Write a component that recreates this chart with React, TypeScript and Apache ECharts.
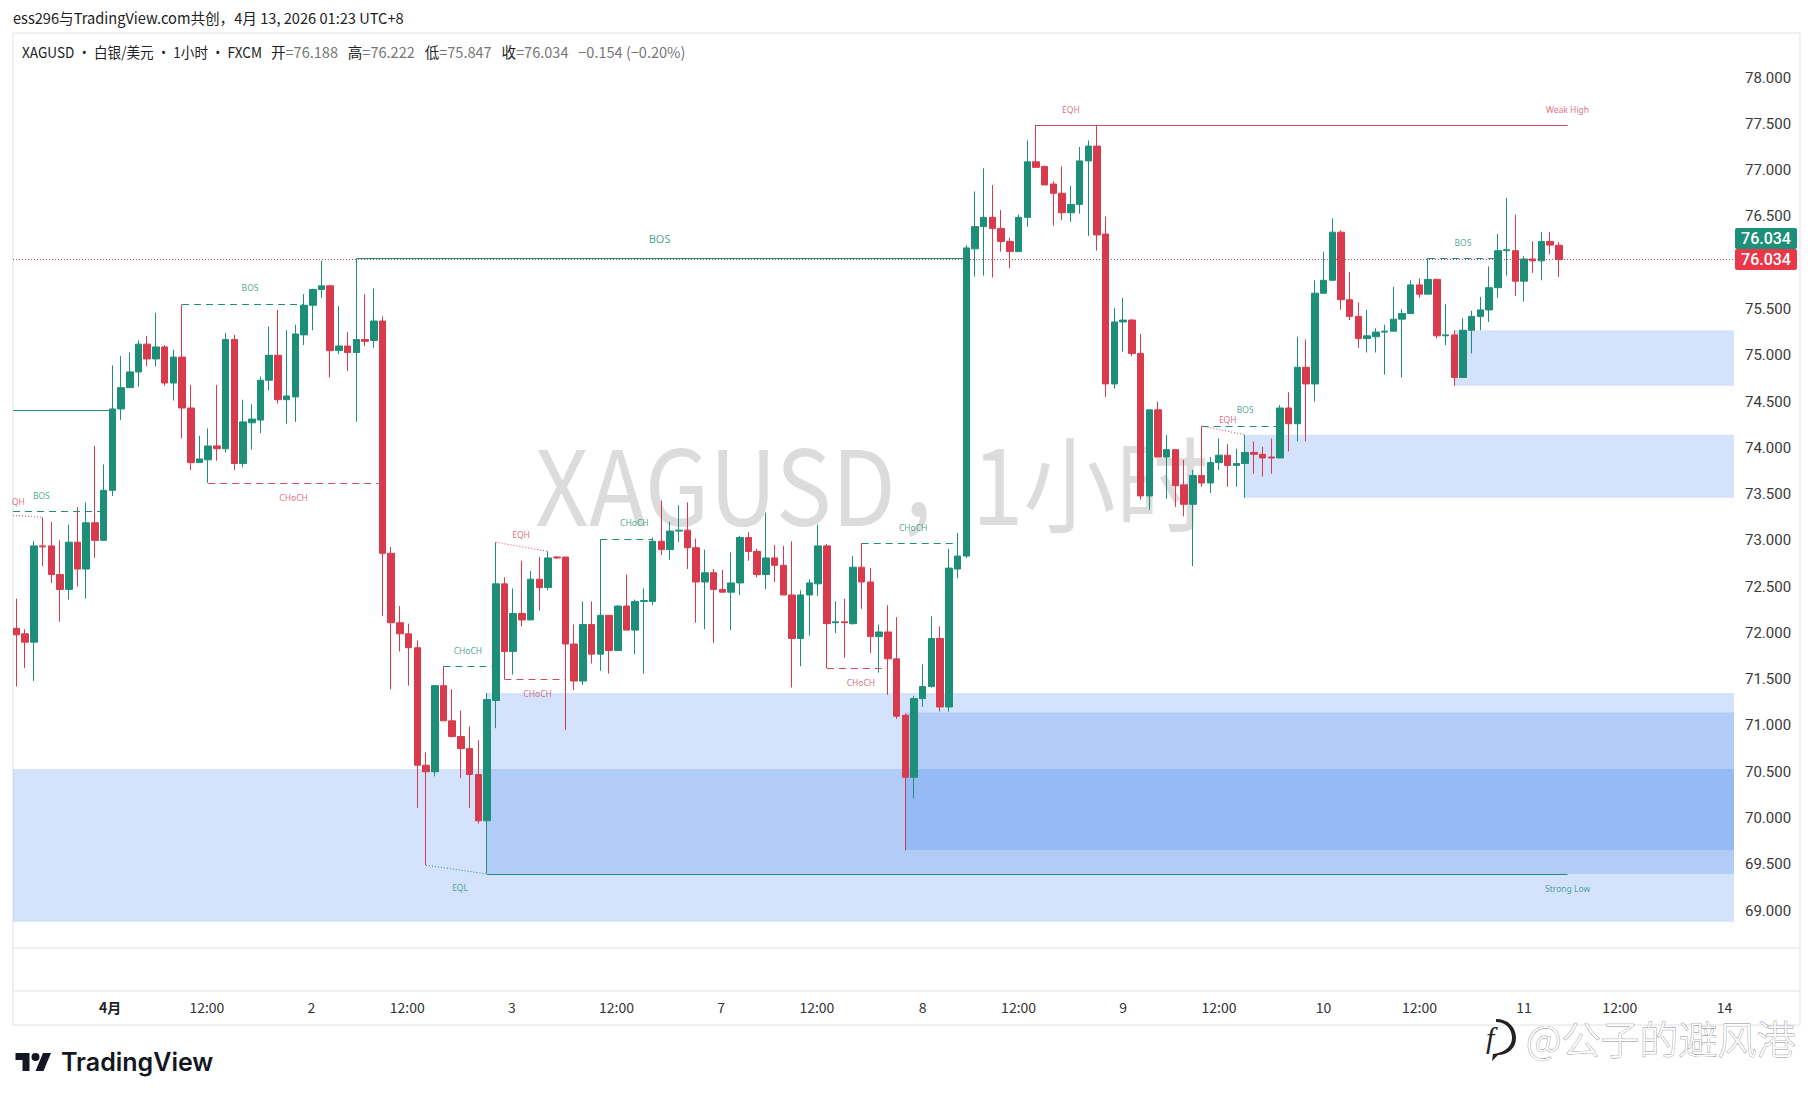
import * as echarts from "echarts";
import { useEffect, useRef } from "react";

// 蜡烛数据
const opens = [
  72.05, 71.99, 71.9, 72.94, 72.94, 72.63, 72.47, 72.98, 72.69, 73.19, 73.0, 73.54, 74.42, 74.65, 74.82, 75.12, 74.96, 75.09, 74.7, 74.98,
  74.43, 73.84, 73.87, 74.02, 73.99, 75.17, 73.83, 74.27, 74.3, 74.73, 75.0, 74.52, 74.55, 75.22, 75.54, 75.71, 75.75, 75.05, 75.1, 75.03,
  75.17, 75.16, 75.37, 72.86, 72.11, 71.99, 71.84, 70.57, 70.5, 71.43, 71.05, 70.88, 70.75, 70.47, 69.97, 71.27, 72.53, 71.8, 72.21, 72.14,
  72.58, 72.49, 72.82, 72.82, 71.88, 71.48, 72.09, 71.77, 72.19, 71.81, 72.29, 72.03, 72.34, 72.34, 72.99, 72.9, 73.1, 73.11, 72.92, 72.55,
  72.65, 72.47, 72.44, 72.54, 73.03, 72.88, 72.63, 72.81, 72.73, 72.41, 71.94, 72.41, 72.53, 72.94, 72.11, 72.12, 72.1, 72.71, 72.55, 71.96,
  72.01, 71.72, 71.11, 70.44, 71.29, 71.42, 71.94, 71.2, 72.69, 72.83, 76.15, 76.39, 76.49, 76.37, 76.23, 76.12, 76.49, 77.09, 77.04, 76.85,
  76.75, 76.54, 76.63, 77.1, 77.26, 76.31, 74.69, 75.36, 75.38, 75.02, 73.48, 74.41, 73.9, 73.98, 73.6, 73.39, 73.7, 73.62, 73.84, 73.92,
  73.81, 73.83, 73.95, 73.93, 73.9, 73.89, 74.43, 74.26, 74.87, 74.69, 75.67, 75.81, 76.33, 75.6, 75.42, 75.18, 75.2, 75.25, 75.26, 75.39,
  75.45, 75.76, 75.66, 75.82, 75.21, 75.22, 74.76, 75.27, 75.42, 75.49, 75.73, 76.13, 76.13, 75.8, 76.04, 76.02, 76.23, 76.188,
];
const closes = [
  71.98, 71.9, 72.94, 72.93, 72.63, 72.47, 72.98, 72.69, 73.19, 73.0, 73.54, 74.42, 74.65, 74.82, 75.12, 74.96, 75.09, 74.7, 74.98, 74.43,
  73.84, 73.88, 74.02, 73.99, 75.17, 73.83, 74.28, 74.31, 74.73, 75.0, 74.52, 74.56, 75.23, 75.54, 75.71, 75.75, 75.05, 75.1, 75.03, 75.17,
  75.15, 75.37, 72.86, 72.11, 71.99, 71.84, 70.57, 70.5, 71.43, 71.05, 70.88, 70.75, 70.47, 69.97, 71.28, 72.53, 71.8, 72.21, 72.14, 72.58,
  72.49, 72.81, 72.81, 71.88, 71.48, 72.09, 71.77, 72.19, 71.81, 72.29, 72.03, 72.34, 72.35, 72.99, 72.9, 73.1, 73.11, 72.92, 72.55, 72.65,
  72.47, 72.44, 72.54, 73.03, 72.88, 72.63, 72.81, 72.73, 72.41, 71.94, 72.41, 72.54, 72.94, 72.1, 72.12, 72.11, 72.71, 72.55, 71.96, 72.01,
  71.72, 71.1, 70.44, 71.29, 71.42, 71.94, 71.2, 72.7, 72.83, 76.16, 76.39, 76.49, 76.37, 76.23, 76.12, 76.49, 77.09, 77.03, 76.84, 76.75,
  76.54, 76.63, 77.1, 77.26, 76.3, 74.69, 75.36, 75.38, 75.02, 73.48, 74.41, 73.9, 73.98, 73.59, 73.39, 73.7, 73.62, 73.84, 73.92, 73.81,
  73.83, 73.95, 73.93, 73.89, 73.89, 74.43, 74.26, 74.87, 74.69, 75.67, 75.81, 76.33, 75.6, 75.42, 75.18, 75.21, 75.25, 75.26, 75.39, 75.45,
  75.76, 75.66, 75.82, 75.21, 75.22, 74.76, 75.27, 75.42, 75.49, 75.73, 76.13, 76.14, 75.8, 76.04, 76.02, 76.23, 76.19, 76.034,
];
const highs = [
  72.37, 72.04, 72.99, 73.25, 73.2, 73.0, 73.17, 73.36, 73.41, 74.02, 73.82, 74.89, 74.99, 75.03, 75.16, 75.21, 75.46, 75.11, 75.06, 75.55,
  74.68, 74.13, 74.21, 74.68, 75.24, 75.22, 74.52, 74.47, 74.77, 75.31, 75.49, 75.27, 75.33, 75.66, 75.72, 76.02, 75.76, 75.53, 75.25, 76.04,
  75.66, 75.72, 75.42, 72.93, 72.29, 72.1, 71.92, 70.71, 71.43, 71.64, 71.39, 71.16, 70.99, 70.84, 71.35, 72.98, 72.6, 72.48, 72.78, 72.67,
  72.82, 72.88, 72.83, 72.82, 72.09, 72.34, 72.34, 73.01, 72.19, 72.3, 72.63, 72.36, 72.48, 73.03, 73.43, 73.2, 73.38, 73.41, 73.02, 72.9,
  72.69, 72.68, 72.87, 73.05, 73.09, 72.91, 73.3, 72.95, 72.94, 72.99, 72.46, 72.58, 73.17, 72.96, 72.34, 72.37, 72.83, 72.97, 72.7, 72.09,
  72.3, 72.17, 71.13, 71.32, 71.66, 72.18, 72.07, 72.91, 73.08, 76.19, 76.77, 77.02, 76.84, 76.57, 76.27, 76.52, 77.32, 77.49, 77.05, 76.88,
  77.04, 76.83, 77.25, 77.32, 77.49, 76.5, 75.51, 75.62, 75.39, 75.23, 74.41, 74.5, 74.14, 73.98, 73.87, 73.76, 74.23, 73.9, 74.1, 74.04,
  73.99, 74.14, 74.07, 74.01, 74.1, 74.46, 74.6, 75.2, 75.17, 75.81, 76.12, 76.48, 76.35, 75.9, 75.57, 75.49, 75.29, 75.33, 75.74, 75.5,
  75.81, 75.83, 76.05, 75.82, 75.55, 75.27, 75.4, 75.48, 75.63, 75.96, 76.31, 76.7, 76.52, 76.07, 76.23, 76.33, 76.33, 76.222,
];
const lows = [
  71.42, 71.62, 71.48, 72.72, 72.54, 72.12, 72.36, 72.5, 72.37, 72.81, 73.0, 73.48, 74.3, 74.65, 74.66, 74.88, 74.88, 74.67, 74.51, 74.1,
  73.76, 73.84, 73.62, 73.86, 73.95, 73.76, 73.79, 73.98, 74.16, 74.62, 74.48, 74.26, 74.28, 75.11, 75.27, 75.62, 74.76, 75.01, 74.83, 74.28,
  75.1, 75.08, 72.18, 71.39, 71.8, 71.43, 70.11, 69.49, 70.45, 71.05, 70.87, 70.43, 70.11, 69.94, 69.4, 70.97, 71.5, 71.55, 72.07, 72.14,
  72.24, 72.46, 72.8, 70.95, 71.38, 71.44, 71.67, 71.59, 71.56, 71.81, 72.03, 71.77, 71.56, 72.3, 72.84, 72.79, 72.98, 72.69, 72.11, 72.04,
  71.89, 72.44, 72.03, 72.41, 72.78, 72.6, 72.47, 72.55, 72.41, 71.41, 71.64, 71.97, 72.4, 71.62, 72.0, 71.73, 72.09, 72.26, 71.78, 71.57,
  71.33, 71.07, 69.65, 70.21, 71.2, 71.41, 71.15, 71.15, 72.59, 72.81, 75.85, 75.86, 75.84, 76.12, 75.94, 76.12, 76.39, 77.03, 76.84, 76.4,
  76.46, 76.44, 76.53, 76.29, 76.13, 74.55, 74.64, 75.04, 74.99, 73.44, 73.33, 73.9, 73.45, 73.36, 73.26, 72.72, 73.58, 73.51, 73.76, 73.58,
  73.58, 73.46, 73.72, 73.69, 73.72, 73.89, 73.96, 74.07, 74.07, 74.5, 75.67, 75.81, 75.49, 75.38, 75.08, 75.03, 75.03, 74.79, 75.26, 74.76,
  75.45, 75.62, 75.66, 75.18, 75.11, 74.67, 74.76, 75.02, 75.27, 75.36, 75.62, 75.86, 75.64, 75.58, 75.89, 75.81, 76.09, 75.847,
];

// 76.000 被价格标签盖住，参考图里看不到
const priceTicks = [69, 69.5, 70, 70.5, 71, 71.5, 72, 72.5, 73, 73.5, 74, 74.5, 75, 75.5, 76.5, 77, 77.5, 78];
const timeTicks = [10.75, 21.85, 33.85, 44.85, 56.85, 68.85, 80.85, 91.85, 104, 115, 127, 138, 150, 161, 173, 184, 196];
const timeLabels = ["4月", "12:00", "2", "12:00", "3", "12:00", "7", "12:00", "8", "12:00", "9", "12:00", "10", "12:00", "11", "12:00", "14"];

const lastPrice = 76.034;
const xMin = -0.402;
const xMax = 197.1;

// 需求区 [起点, 上沿, 下沿]
const zones = [
  [xMin, 70.53, 68.88],
  [54, 71.35, 69.395],
  [102, 71.14, 69.654],
  [141, 74.14, 73.46],
  [165, 75.27, 74.67],
];

// 结构线 [x1, y1, x2, y2, 颜色, 线型]
const GREEN = "#1f8f78";
const RED = "#d14a60";
const structureLines: [number, number, number, number, string, string][] = [
  [xMin, 74.41, 11, 74.41, GREEN, "solid"],
  [xMin, 73.31, 10, 73.31, GREEN, "dashed"],
  [xMin, 73.27, 3, 73.25, RED, "dotted"],
  [19, 75.55, 33, 75.55, GREEN, "dashed"],
  [22, 73.62, 42, 73.62, RED, "dashed"],
  [39, 76.043, 109, 76.043, GREEN, "solid"],
  [49, 71.64, 55, 71.64, GREEN, "dashed"],
  [55, 72.98, 61, 72.88, RED, "dotted"],
  [56, 71.5, 63, 71.5, RED, "dashed"],
  [67, 73.01, 73, 73.01, GREEN, "dashed"],
  [47, 69.49, 54, 69.395, GREEN, "dotted"],
  [54, 69.395, 178, 69.395, GREEN, "solid"],
  [93, 71.62, 100, 71.62, RED, "dashed"],
  [97, 72.97, 108, 72.97, GREEN, "dashed"],
  [117, 77.488, 178, 77.488, RED, "solid"],
  [136, 74.235, 145, 74.235, GREEN, "dashed"],
  [136, 74.235, 141, 74.14, RED, "dotted"],
  [162, 76.047, 170, 76.047, GREEN, "dashed"],
];

// 结构标签 [x, y, 文本, 颜色, 字号]
const structureLabels: [number, number, string, string, number][] = [
  [2.85, 73.49, "BOS", GREEN, 8.5],
  [0.2, 73.42, "QH", RED, 8.5],
  [26.8, 75.73, "BOS", GREEN, 8.5],
  [31.8, 73.46, "CHoCH", RED, 8.5],
  [73.8, 76.26, "BOS", GREEN, 11],
  [51.8, 71.81, "CHoCH", GREEN, 8.5],
  [57.9, 73.06, "EQH", RED, 8.5],
  [59.8, 71.34, "CHoCH", RED, 8.5],
  [70.9, 73.19, "CHoCH", GREEN, 8.5],
  [50.9, 69.245, "EQL", GREEN, 8.5],
  [178, 69.24, "Strong Low", GREEN, 8.5],
  [96.9, 71.46, "CHoCH", RED, 8.5],
  [102.9, 73.137, "CHoCH", GREEN, 8.5],
  [178, 77.65, "Weak High", RED, 8.5],
  [121, 77.65, "EQH", RED, 8.5],
  [141, 74.41, "BOS", GREEN, 8.5],
  [139, 74.31, "EQH", RED, 8.5],
  [166, 76.22, "BOS", GREEN, 8.5],
];

const CJK = '"Noto Sans CJK SC", "Noto Sans", sans-serif';

echarts.graphic.registerShape(
  "tvLogo",
  echarts.graphic.extendPath(
    "M14 22H7V11H0V4h14v18zM28 22h-8l7.5-18h8L28 22zM24 8a4 4 0 1 1-8 0a4 4 0 1 1 8 0z",
    {}
  )
);
echarts.graphic.registerShape(
  "zhihuBubble",
  echarts.graphic.extendPath(
    "M12 0C24 0 32 8 32 19C32 29 24 36 14 36L8 42L9 35C18 34 28 29 28 19C28 10 22 3 12 3Z",
    {}
  )
);

export default function App() {
  const chartRef = useRef<HTMLDivElement | null>(null);

  useEffect(() => {
    document.body.style.margin = "0";
    if (!chartRef.current) return;
    const chart = echarts.init(chartRef.current, null, { renderer: "svg" });

    const candles = opens.map((open, i) => [i, open, closes[i], lows[i], highs[i]]);

    const frameLine = (x1: number, y1: number, x2: number, y2: number) => ({
      type: "line",
      shape: { x1, y1, x2, y2 },
      style: { stroke: "#e9ecf0", lineWidth: 1.5 },
      silent: true,
    });

    chart.setOption({
      animation: false,
      backgroundColor: "#fff",
      grid: { left: 13, right: 80, top: 31.325, height: 925.5 },
      xAxis: {
        type: "value",
        min: xMin,
        max: xMax,
        axisLine: { show: false },
        axisTick: { show: false },
        splitLine: { show: false },
        axisLabel: {
          customValues: timeTicks,
          margin: 43,
          fontFamily: CJK,
          fontSize: 14,
          color: "#333",
          formatter: (v: number) => {
            const label = timeLabels[timeTicks.indexOf(v)] ?? "";
            return label === "4月" ? `{b|${label}}` : label;
          },
          rich: { b: { fontFamily: CJK, fontSize: 14, fontWeight: "bold", color: "#222" } },
        },
      },
      yAxis: {
        type: "value",
        position: "right",
        min: 68.5,
        max: 78.5,
        interval: 0.5,
        axisLine: { show: false },
        axisTick: { show: false },
        splitLine: { show: false },
        axisLabel: {
          margin: 11,
          fontFamily: "Roboto",
          fontSize: 15,
          color: "#3a3a3a",
          formatter: (v: number) => (priceTicks.includes(v) ? v.toFixed(3) : ""),
        },
      },
      series: [
        {
          name: "zones",
          type: "line",
          data: [],
          markArea: {
            silent: true,
            itemStyle: { color: "rgba(40,115,235,0.2)" },
            data: zones.map(([start, top, bottom]) => [
              { xAxis: start, yAxis: top },
              { xAxis: xMax, yAxis: bottom },
            ]),
          },
        },
        {
          name: "XAGUSD",
          type: "candlestick",
          barWidth: 7,
          data: candles,
          itemStyle: {
            color: "#1d8f78",
            color0: "#d93b4e",
            borderColor: "#1d8f78",
            borderColor0: "#d93b4e",
            borderWidth: 1,
          },
          z: 3,
        },
        {
          name: "structure",
          type: "line",
          data: [],
          markLine: {
            silent: true,
            symbol: ["none", "none"],
            label: { show: false },
            data: [
              [
                { coord: [xMin, lastPrice], lineStyle: { color: "#b8475a", type: [1, 2], width: 1 } },
                { coord: [xMax, lastPrice] },
              ],
              ...structureLines.map(([x1, y1, x2, y2, color, kind]) => [
                {
                  coord: [x1, y1],
                  lineStyle: {
                    color,
                    width: 1,
                    type: kind === "solid" ? "solid" : kind === "dashed" ? [7, 5] : [1, 2],
                  },
                },
                { coord: [x2, y2] },
              ]),
            ],
          },
        },
        {
          name: "labels",
          type: "scatter",
          symbolSize: 1,
          itemStyle: { color: "transparent" },
          z: 6,
          data: structureLabels.map(([x, y, text, color, size]) => ({
            name: text,
            value: [x, y],
            label: {
              show: true,
              position: "inside",
              formatter: "{b}",
              color,
              fontSize: size,
              fontFamily: '"Noto Sans", sans-serif',
            },
          })),
        },
      ],
      graphic: [
        // 水印
        {
          type: "text",
          x: 535,
          y: 428,
          scaleX: 0.9,
          z: 0,
          silent: true,
          style: { text: "XAGUSD，", fontFamily: CJK, fontSize: 104, fill: "#dcdcdc" },
        },
        {
          type: "text",
          x: 972,
          y: 428,
          scaleX: 0.89,
          z: 0,
          silent: true,
          style: { text: "1小时", fontFamily: CJK, fontSize: 104, fill: "#dcdcdc" },
        },
        // 边框
        frameLine(13, 33, 1800, 33),
        frameLine(13, 33, 13, 1025),
        frameLine(1800, 33, 1800, 1025),
        frameLine(13, 948, 1800, 948),
        frameLine(13, 991, 1800, 991),
        frameLine(13, 1025, 1800, 1025),
        // 顶部文字
        {
          type: "text",
          x: 13,
          y: 10,
          scaleX: 0.975,
          style: {
            text: "ess296与TradingView.com共创，4月 13, 2026 01:23 UTC+8",
            fontFamily: CJK,
            fontSize: 15,
            fill: "#222",
          },
        },
        {
          type: "text",
          x: 22,
          y: 44,
          scaleX: 0.906,
          style: { text: "XAGUSD · 白银/美元 · 1小时 · FXCM", fontFamily: CJK, fontSize: 15, fill: "#222" },
        },
        {
          type: "text",
          x: 271,
          y: 44,
          scaleX: 0.97,
          style: {
            text: "{a|开}{v|=76.188}{a|   高}{v|=76.222}{a|   低}{v|=75.847}{a|   收}{v|=76.034   −0.154 (−0.20%)}",
            rich: {
              a: { fontFamily: CJK, fontSize: 15, fill: "#222", color: "#222" },
              v: { fontFamily: CJK, fontSize: 15, fill: "#777", color: "#777" },
            },
          },
        },
        // 价格标签
        { type: "rect", shape: { x: 1735, y: 228, width: 62, height: 21, r: 2 }, style: { fill: "#1d8f78" }, z: 20 },
        { type: "rect", shape: { x: 1735, y: 249, width: 62, height: 21, r: 2 }, style: { fill: "#e8384a" }, z: 20 },
        {
          type: "text",
          x: 1766,
          y: 238.5,
          z: 21,
          style: { text: "76.034", fontFamily: "Roboto", fontSize: 16, fontWeight: 500, fill: "#fff", align: "center", verticalAlign: "middle" },
        },
        {
          type: "text",
          x: 1766,
          y: 259.5,
          z: 21,
          style: { text: "76.034", fontFamily: "Roboto", fontSize: 16, fontWeight: 500, fill: "#fff", align: "center", verticalAlign: "middle" },
        },
        // TradingView 标志
        { type: "tvLogo", x: 15.5, y: 1049, style: { fill: "#131722" } },
        {
          type: "text",
          x: 61,
          y: 1049,
          style: { text: "TradingView", fontFamily: "Inter", fontSize: 25, fontWeight: 600, fill: "#131722" },
        },
        // 知乎水印
        { type: "zhihuBubble", x: 1484, y: 1019, style: { fill: "#222" }, z: 30 },
        {
          type: "text",
          x: 1486,
          y: 1022,
          z: 30,
          style: { text: "f", fontFamily: "Liberation Serif", fontStyle: "italic", fontSize: 30, fill: "#222" },
        },
        {
          type: "text",
          x: 1526,
          y: 1017,
          z: 30,
          style: {
            text: "@公子的避风港",
            fontFamily: CJK,
            fontSize: 39,
            fontWeight: 300,
            fill: "#fff",
            stroke: "#8a8a8a",
            lineWidth: 0.8,
          },
        },
      ],
    });

    return () => {
      chart.dispose();
    };
  }, []);

  return <div ref={chartRef} style={{ width: 1814, height: 1101 }} />;
}
